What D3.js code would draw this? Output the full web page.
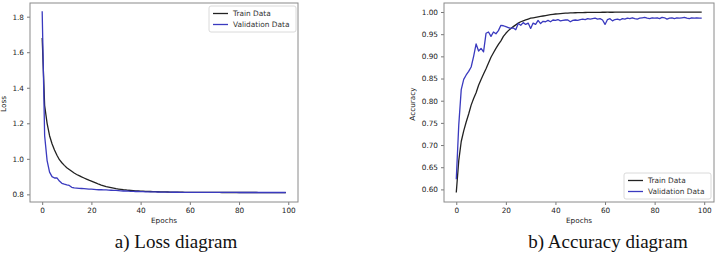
<!DOCTYPE html>
<html><head><meta charset="utf-8">
<script src="https://cdn.jsdelivr.net/npm/d3@7"></script>
<style>
html,body{margin:0;padding:0;background:#fff;}
svg{display:block;}
.tick text{font-family:"DejaVu Sans",sans-serif;font-size:7.3px;fill:#222;}
.tick line{stroke:#777;}
</style></head>
<body><svg id="c" width="717" height="254"></svg>
<script>
const epochs = d3.range(0, 100);

const lossTrain = [1.68,1.30,1.20,1.13,1.085,1.05,1.02,0.995,0.978,0.963,
0.950,0.940,0.930,0.920,0.912,0.905,0.898,0.892,0.886,0.880,
0.875,0.869,0.863,0.857,0.852,0.848,0.844,0.841,0.838,0.835,
0.832,0.830,0.828,0.826,0.825,0.823,0.822,0.821,0.820,0.819,
0.818,0.8175,0.817,0.8165,0.816,0.8155,0.815,0.8146,0.8142,0.8138,
0.8135,0.8132,0.8129,0.8126,0.8124,0.8122,0.812,0.8118,0.8116,0.8115,
0.8114,0.8113,0.8112,0.8111,0.811,0.811,0.8109,0.8109,0.8108,0.8108,
0.8107,0.8107,0.8107,0.8106,0.8106,0.8106,0.8106,0.8105,0.8105,0.8105,
0.8105,0.8105,0.8104,0.8104,0.8104,0.8104,0.8104,0.8104,0.8103,0.8103,
0.8103,0.8103,0.8103,0.8103,0.8103,0.8102,0.8102,0.8102,0.8102,0.8102];

const lossVal = [1.83,1.13,0.99,0.925,0.900,0.892,0.893,0.875,0.862,0.857,
0.853,0.850,0.840,0.836,0.835,0.834,0.833,0.832,0.831,0.830,
0.829,0.828,0.827,0.826,0.826,0.825,0.825,0.824,0.823,0.822,
0.822,0.821,0.820,0.819,0.819,0.818,0.817,0.817,0.816,0.816,
0.815,0.815,0.8145,0.8142,0.814,0.8137,0.8135,0.8132,0.813,0.8128,
0.8126,0.8124,0.8122,0.812,0.8119,0.8118,0.8117,0.8116,0.8115,0.8114,
0.8113,0.8112,0.8112,0.8111,0.8111,0.811,0.811,0.811,0.8109,0.8109,
0.8109,0.8108,0.8108,0.8108,0.8108,0.8107,0.8107,0.8107,0.8107,0.8107,
0.8106,0.8106,0.8106,0.8106,0.8106,0.8106,0.8105,0.8105,0.8105,0.8105,
0.8105,0.8105,0.8105,0.8104,0.8104,0.8104,0.8104,0.8104,0.8104,0.8104];

const accTrain = [0.593,0.665,0.708,0.732,0.752,0.770,0.790,0.805,0.818,0.835,
0.848,0.860,0.872,0.885,0.898,0.908,0.918,0.927,0.935,0.945,
0.952,0.958,0.963,0.967,0.971,0.975,0.978,0.980,0.982,0.984,
0.986,0.987,0.988,0.989,0.990,0.991,0.992,0.993,0.994,0.9948,
0.9955,0.996,0.9965,0.997,0.9973,0.9976,0.9979,0.9981,0.9983,0.9985,
0.9987,0.9988,0.9989,0.999,0.9991,0.9992,0.9992,0.9993,0.9993,0.9994,
0.9994,0.9995,0.9995,0.9995,0.9996,0.9996,0.9996,0.9996,0.9997,0.9997,
0.9997,0.9997,0.9997,0.9998,0.9998,0.9998,0.9998,0.9998,0.9998,0.9998,
0.9998,0.9999,0.9999,0.9999,0.9999,0.9999,0.9999,0.9999,0.9999,0.9999,
0.9999,0.9999,0.9999,0.9999,0.9999,0.9999,0.9999,0.9999,0.9999,0.9999];

const accVal = [0.623,0.745,0.825,0.848,0.858,0.866,0.876,0.900,0.928,0.912,
0.918,0.910,0.952,0.955,0.945,0.955,0.951,0.958,0.970,0.969,
0.967,0.965,0.963,0.964,0.960,0.974,0.970,0.976,0.972,0.975,
0.963,0.975,0.972,0.981,0.974,0.979,0.978,0.981,0.978,0.982,
0.981,0.983,0.980,0.981,0.982,0.982,0.978,0.981,0.982,0.981,
0.983,0.984,0.983,0.985,0.984,0.985,0.986,0.984,0.985,0.982,
0.972,0.983,0.985,0.980,0.983,0.984,0.982,0.985,0.984,0.986,
0.985,0.987,0.985,0.984,0.986,0.987,0.988,0.986,0.985,0.987,
0.986,0.987,0.985,0.988,0.987,0.984,0.986,0.987,0.985,0.987,
0.986,0.987,0.988,0.986,0.985,0.987,0.986,0.987,0.986,0.986];

const xTicks = [0,20,40,60,80,100];
const lossTicks = [0.8,1.0,1.2,1.4,1.6,1.8];
const accTicks = [0.60,0.65,0.70,0.75,0.80,0.85,0.90,0.95,1.00];
const seriesNames = ["Train Data","Validation Data"];
const colors = ["#222222","#3a3abf"];

const svg = d3.select("#c");

function panel(o){
  const x = d3.scaleLinear().domain([-4.95,103.95]).range([o.left,o.right]);
  const y = d3.scaleLinear().domain(o.ydom).range([202,3]);
  const g = svg.append("g");
  g.append("g").attr("transform","translate(0,202)")
    .call(d3.axisBottom(x).tickValues(xTicks).tickSize(3).tickPadding(3).tickFormat(d3.format("d")))
    .call(a=>a.select(".domain").remove());
  g.append("g").attr("transform",`translate(${o.left},0)`)
    .call(d3.axisLeft(y).tickValues(o.yticks).tickSize(3).tickPadding(3).tickFormat(o.fmt))
    .call(a=>a.select(".domain").remove());
  const line = d3.line().x((d,i)=>x(epochs[i])).y(d=>y(d));
  o.series.forEach((s,k)=>{
    g.append("path").datum(s).attr("d",line).attr("fill","none")
      .attr("stroke",colors[k]).attr("stroke-width",1.3).attr("stroke-linejoin","round");
  });
  g.append("rect").attr("x",o.left).attr("y",3).attr("width",o.right-o.left).attr("height",199)
    .attr("fill","none").attr("stroke","#8a8a8a").attr("stroke-width",1);
  g.append("text").attr("x",(o.left+o.right)/2).attr("y",223).attr("text-anchor","middle")
    .style("font-family","DejaVu Sans").style("font-size","7.3px").attr("fill","#222").text("Epochs");
  g.append("text").attr("transform",`translate(${o.ylabX},104) rotate(-90)`).attr("text-anchor","middle")
    .style("font-family","DejaVu Sans").style("font-size","7.3px").attr("fill","#222").text(o.ylabel);
  // legend
  const lg = g.append("g").attr("transform",`translate(${o.legX},${o.legY})`);
  lg.append("rect").attr("width",87).attr("height",26).attr("rx",2)
    .attr("fill","#fff").attr("stroke","#d0d0d0").attr("stroke-width",0.8);
  seriesNames.forEach((n,k)=>{
    const yy = 7.5 + k*11;
    lg.append("line").attr("x1",4).attr("x2",19).attr("y1",yy).attr("y2",yy)
      .attr("stroke",colors[k]).attr("stroke-width",1.3);
    lg.append("text").attr("x",24).attr("y",yy+2.6)
      .style("font-family","DejaVu Sans").style("font-size","7.4px").attr("fill","#333").text(n);
  });
  svg.append("text").attr("x",o.capX).attr("y",248).attr("text-anchor","middle")
    .style("font-family","Liberation Serif, Times New Roman, serif").style("font-size","19px")
    .attr("fill","#111").text(o.caption);
}

panel({left:30,right:298,ydom:[0.757,1.877],yticks:lossTicks,fmt:d3.format(".1f"),
  series:[lossTrain,lossVal],ylabel:"Loss",ylabX:6,legX:209,legY:6,
  caption:"a) Loss diagram",capX:176});
panel({left:444,right:714,ydom:[0.5716,1.0203],yticks:accTicks,fmt:d3.format(".2f"),
  series:[accTrain,accVal],ylabel:"Accuracy",ylabX:415,legX:624,legY:173,
  caption:"b) Accuracy diagram",capX:608});
</script></body></html>
